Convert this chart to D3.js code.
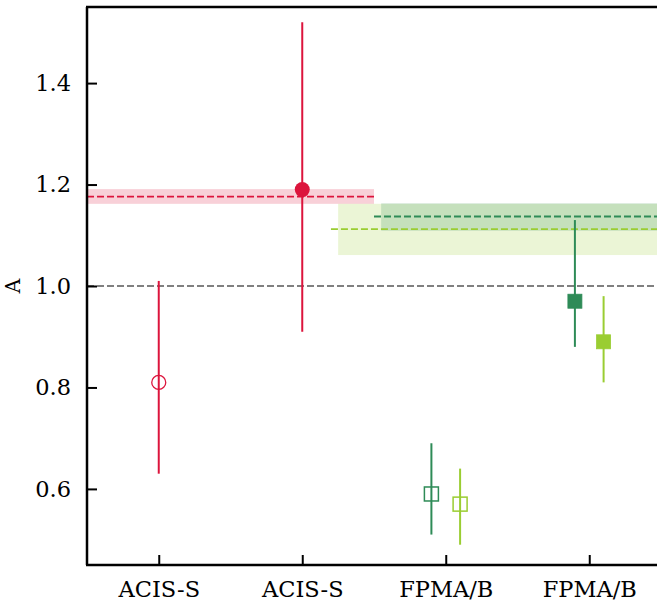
<!DOCTYPE html>
<html>
<head>
<meta charset="utf-8">
<style>
  body { margin: 0; background: #fff; }
  svg text { font-family: "DejaVu Serif", serif; fill: #000; }
</style>
</head>
<body>
<div id="chart"></div>
<script src="https://d3js.org/d3.v7.min.js"></script>
<script>
// categories / tick labels
var tickLabels = ["ACIS-S", "ACIS-S", "FPMA/B", "FPMA/B"];
var yTicks = [0.6, 0.8, 1.0, 1.2, 1.4];

// point estimates: [x, value, low, high]
var acisOpen   = [[0, 0.81, 0.63, 1.01]];
var acisFilled = [[1, 1.19, 0.91, 1.52]];
var fpmOpenDark    = [[1.9, 0.59, 0.51, 0.69]];
var fpmOpenLight   = [[2.1, 0.57, 0.49, 0.64]];
var fpmFilledDark  = [[2.9, 0.97, 0.88, 1.13]];
var fpmFilledLight = [[3.1, 0.89, 0.81, 0.98]];

// mean levels: [xStart, xEnd, value, low, high, bandStart]
var redMean   = [-0.5, 1.5, 1.176, 1.162, 1.191, -0.5];
var lightMean = [1.2, 3.5, 1.112, 1.061, 1.162, 1.25];
var darkMean  = [1.5, 3.5, 1.137, 1.109, 1.163, 1.55];

var red = "#DC143C", dark = "#2E8B57", light = "#9ACD32";

var W = 657, H = 604;
var x = d3.scaleLinear().domain([-0.5, 3.5]).range([87, 661]);
var y = d3.scaleLinear().domain([0.45, 1.55]).range([565, 7]);

var svg = d3.select("#chart").append("svg")
    .attr("width", W).attr("height", H);

// bands
function band(m, color) {
    svg.append("rect")
        .attr("x", x(m[5])).attr("width", x(m[1]) - x(m[5]))
        .attr("y", y(m[4])).attr("height", y(m[3]) - y(m[4]))
        .attr("fill", color).attr("opacity", 0.2);
}
band(redMean, red);
band(lightMean, light);
band(darkMean, dark);

function hline(x0, x1, v, color) {
    svg.append("line")
        .attr("x1", x(x0)).attr("x2", x(x1))
        .attr("y1", y(v)).attr("y2", y(v))
        .attr("stroke", color).attr("stroke-width", 1.8)
        .attr("stroke-dasharray", "7,3");
}
hline(-0.5, 3.5, 1.0, "#808080");
hline(redMean[0], redMean[1], redMean[2], red);
hline(lightMean[0], lightMean[1], lightMean[2], light);
hline(darkMean[0], darkMean[1], darkMean[2], dark);

function points(data, color, shape, filled) {
    var g = svg.append("g");
    g.selectAll("line.err").data(data).enter().append("line")
        .attr("x1", d => x(d[0])).attr("x2", d => x(d[0]))
        .attr("y1", d => y(d[2])).attr("y2", d => y(d[3]))
        .attr("stroke", color).attr("stroke-width", 2);
    if (shape === "circle") {
        g.selectAll("circle").data(data).enter().append("circle")
            .attr("cx", d => x(d[0])).attr("cy", d => y(d[1]))
            .attr("r", filled ? 7.5 : 7)
            .attr("fill", filled ? color : "#fff")
            .attr("fill-opacity", filled ? 1 : 0)
            .attr("stroke", color).attr("stroke-width", filled ? 0 : 1.3);
    } else {
        var s = 14;
        g.selectAll("rect").data(data).enter().append("rect")
            .attr("x", d => x(d[0]) - s / 2).attr("y", d => y(d[1]) - s / 2)
            .attr("width", s).attr("height", s)
            .attr("fill", filled ? color : "none")
            .attr("stroke", color).attr("stroke-width", filled ? 0.8 : 1.5);
    }
}
points(acisOpen, red, "circle", false);
points(acisFilled, red, "circle", true);
points(fpmOpenDark, dark, "square", false);
points(fpmOpenLight, light, "square", false);
points(fpmFilledDark, dark, "square", true);
points(fpmFilledLight, light, "square", true);

// axes
var yAxis = d3.axisLeft(y).tickValues(yTicks).tickFormat(d3.format(".1f"))
    .tickSizeInner(-10).tickSizeOuter(0).tickPadding(16);
var gy = svg.append("g").attr("transform", "translate(87,0)").call(yAxis);
var xAxis = d3.axisBottom(x).tickValues([0, 1, 2, 3])
    .tickFormat((d, i) => tickLabels[i])
    .tickSizeInner(-10).tickSizeOuter(0).tickPadding(16);
var gx = svg.append("g").attr("transform", "translate(0,565)").call(xAxis);
[gx, gy].forEach(function (g) {
    g.selectAll(".domain").remove();
    g.selectAll(".tick line").attr("stroke", "#000").attr("stroke-width", 2);
    g.selectAll(".tick text").attr("font-size", 22.5).attr("font-family", "DejaVu Serif");
});

// spines
svg.append("line").attr("x1", 87).attr("x2", 87).attr("y1", 7).attr("y2", 565)
    .attr("stroke", "#000").attr("stroke-width", 2.5);
svg.append("line").attr("x1", 86).attr("x2", 661).attr("y1", 565).attr("y2", 565)
    .attr("stroke", "#000").attr("stroke-width", 2.5);
svg.append("line").attr("x1", 86).attr("x2", 661).attr("y1", 7).attr("y2", 7)
    .attr("stroke", "#000").attr("stroke-width", 2.5);

svg.append("text")
    .attr("transform", "translate(20," + y(1.0) + ") rotate(-90)")
    .attr("text-anchor", "middle")
    .attr("font-size", 20)
    .text("A");
</script>
</body>
</html>
